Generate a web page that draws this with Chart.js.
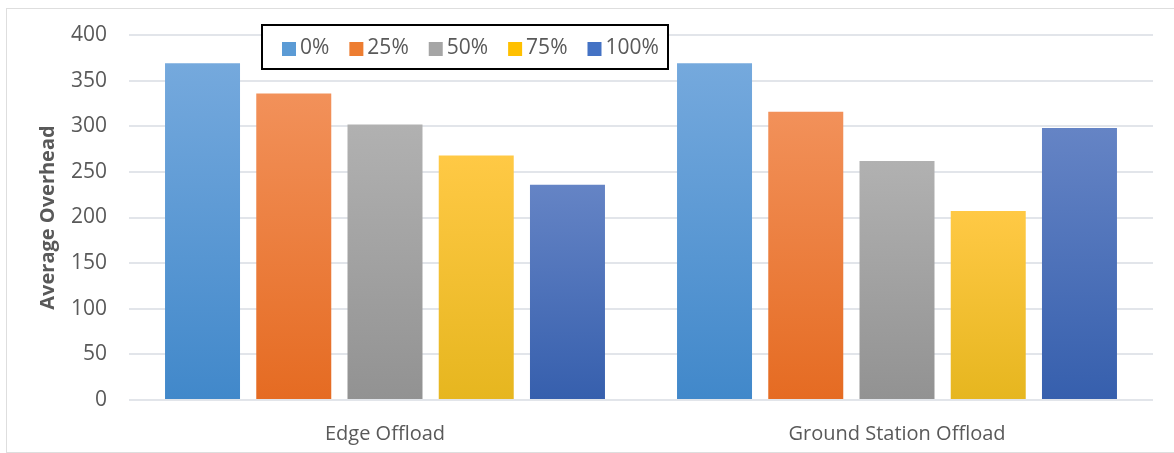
<!DOCTYPE html>
<html>
<head>
<meta charset="utf-8">
<script src="https://cdn.jsdelivr.net/npm/chart.js@4/dist/chart.umd.min.js"></script>
<style>
  html, body { margin: 0; padding: 0; background: #fff; }
  #wrap { position: relative; width: 1174px; height: 453px; overflow: hidden; }
  #frame { position: absolute; left: 6px; top: 8px; width: 1200px; height: 443px; border: 1px solid #dedede; }
  canvas { position: absolute; left: 0; top: 0; }
</style>
</head>
<body>
<div id="wrap">
  <div id="frame"></div>
  <canvas id="chart" width="1174" height="453"></canvas>
</div>
<script>
// data
const categories = ['Edge Offload', 'Ground Station Offload'];
const seriesLabels = ['0%', '25%', '50%', '75%', '100%'];
const load0 = [369, 369];
const load25 = [336, 316];
const load50 = [302, 262];
const load75 = [268, 207];
const load100 = [236, 298];
const yTicks = [0, 50, 100, 150, 200, 250, 300, 350, 400];

// top / bottom shades of each bar gradient, plus legend colour
const shades = [
    { top: '#75a9dd', bottom: '#4188ca', solid: '#5b9bd5' },
    { top: '#f2915a', bottom: '#e56b22', solid: '#ed7d31' },
    { top: '#b1b1b1', bottom: '#929292', solid: '#a5a5a5' },
    { top: '#ffc945', bottom: '#e6b61f', solid: '#ffc000' },
    { top: '#6584c5', bottom: '#365fad', solid: '#4472c4' }
];

const textColor = '#595959';
const fontFamily = '"Open Sans", sans-serif';

function barGradient(i) {
    return function(ctx) {
        const chart = ctx.chart;
        if (!chart.chartArea || ctx.raw === undefined) return shades[i].solid;
        const y = chart.scales.y;
        const g = chart.ctx.createLinearGradient(0, y.getPixelForValue(ctx.raw), 0, y.getPixelForValue(0));
        g.addColorStop(0, shades[i].top);
        g.addColorStop(1, shades[i].bottom);
        return g;
    };
}

// boxed legend drawn over the plot, like the original
const boxLegend = {
    id: 'boxLegend',
    afterDraw(chart) {
        const c = chart.ctx;
        c.save();
        c.fillStyle = '#fff';
        c.fillRect(262, 25, 406, 44);
        c.strokeStyle = '#000';
        c.lineWidth = 2;
        c.strokeRect(262, 25, 406, 44);
        c.font = '21px ' + fontFamily;
        c.textBaseline = 'middle';
        let x = 282;
        chart.data.datasets.forEach((ds, i) => {
            c.fillStyle = shades[i].solid;
            c.fillRect(x, 42, 14, 14);
            c.fillStyle = textColor;
            c.fillText(ds.label, x + 18, 48);
            x += 18 + c.measureText(ds.label).width + 20;
        });
        c.restore();
    }
};

const allSeries = [load0, load25, load50, load75, load100];

new Chart(document.getElementById('chart'), {
    type: 'bar',
    data: {
        labels: categories,
        datasets: allSeries.map((vals, i) => ({
            label: seriesLabels[i],
            data: vals,
            backgroundColor: barGradient(i),
            borderWidth: 0,
            categoryPercentage: 0.891,
            barPercentage: 0.822
        }))
    },
    options: {
        responsive: false,
        animation: false,
        layout: { padding: { top: 35, right: 21, left: 0, bottom: 0 } },
        plugins: {
            legend: { display: false },
            tooltip: { enabled: false }
        },
        scales: {
            x: {
                grid: { display: false },
                border: { display: false },
                ticks: { color: textColor, font: { family: fontFamily, size: 20 }, padding: 14 },
                afterFit: s => { s.height = 53; }
            },
            y: {
                min: 0,
                max: 400,
                afterBuildTicks: s => { s.ticks = yTicks.map(v => ({ value: v })); },
                grid: { color: '#e2e5ea', lineWidth: 2, drawTicks: false },
                border: { display: false },
                ticks: { color: textColor, font: { family: fontFamily, size: 21 }, padding: 22 },
                title: {
                    display: true,
                    text: 'Average Overhead',
                    color: textColor,
                    font: { family: fontFamily, size: 20, weight: 'bold' },
                    padding: { top: 36, bottom: 0 }
                },
                afterFit: s => { s.width = 129; }
            }
        }
    },
    plugins: [boxLegend]
});
</script>
</body>
</html>
